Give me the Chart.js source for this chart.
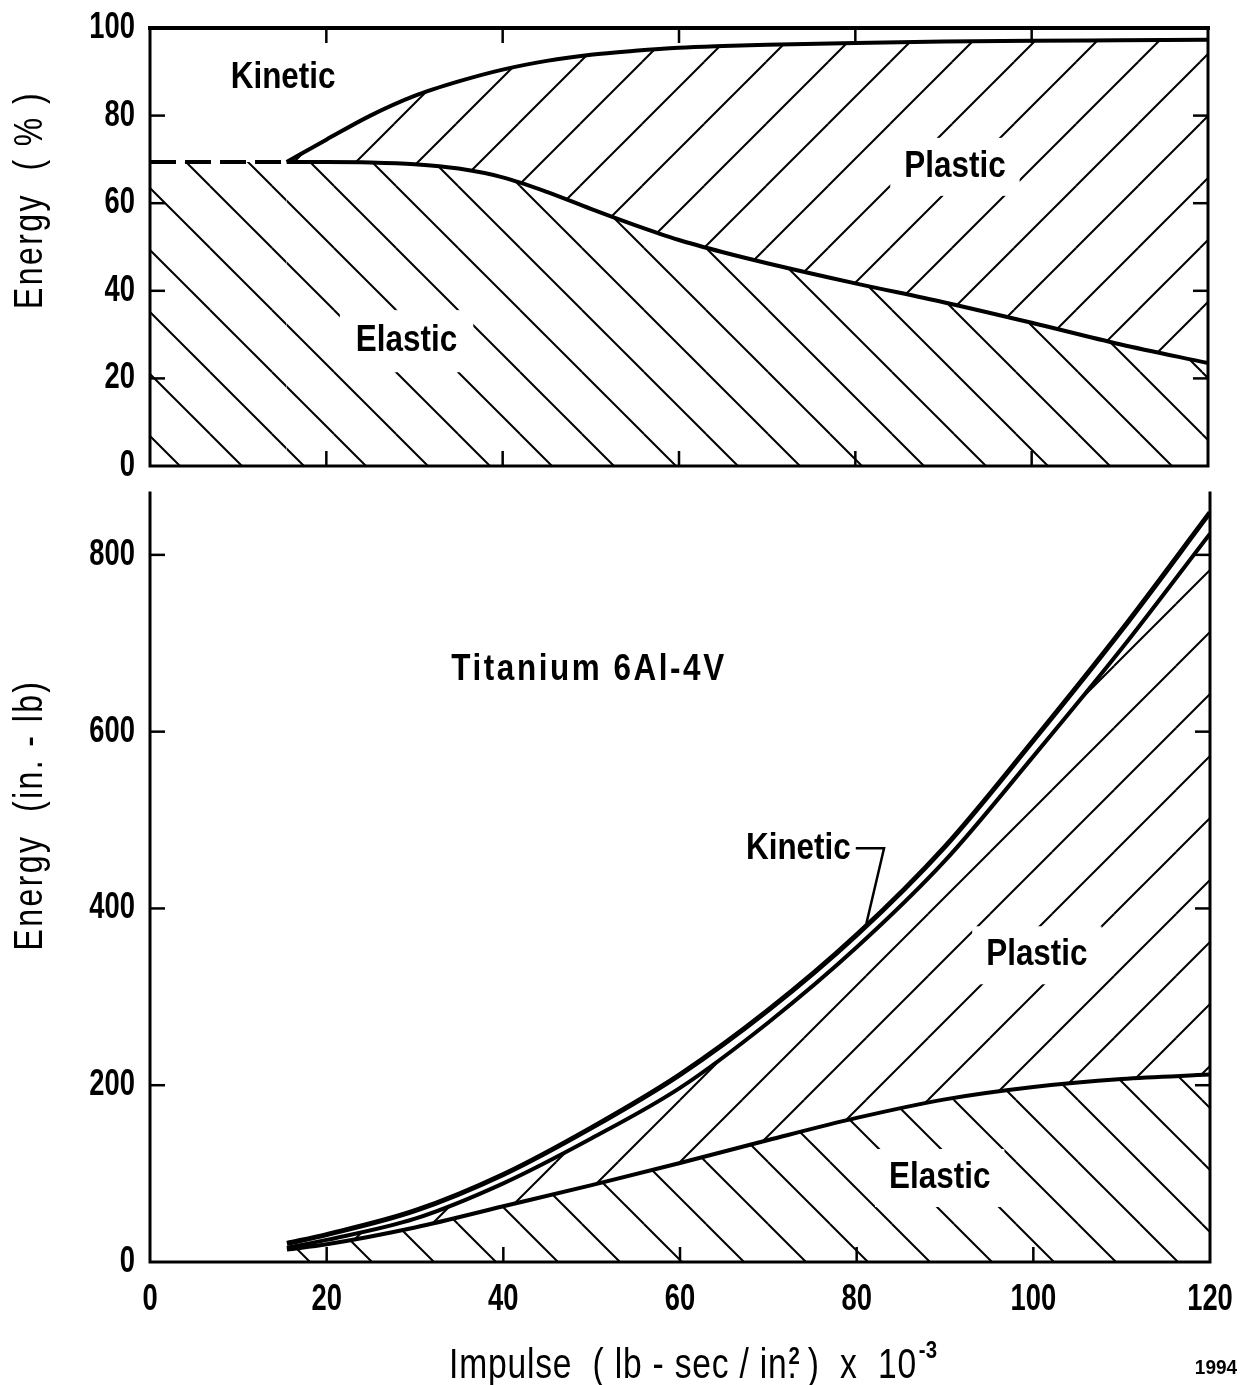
<!DOCTYPE html>
<html>
<head>
<meta charset="utf-8">
<script src="https://cdn.jsdelivr.net/npm/chart.js@4.4.1/dist/chart.umd.min.js"></script>
<style>
html, body { margin: 0; padding: 0; background: #fff; }
#wrap { position: relative; width: 1241px; height: 1385px; overflow: hidden; }
#top { position: absolute; left: 0; top: 0; }
#bot { position: absolute; left: 0; top: 480px; }
</style>
</head>
<body>
<div id="wrap">
	<canvas id="top" width="1241" height="500"></canvas>
	<canvas id="bot" width="1241" height="905"></canvas>
</div>
<script>
// upper panel: energy split in percent
var impulseTop = [0, 15.5, 20, 25, 30, 35, 40, 45, 50, 55, 60, 65, 70, 80, 90, 100, 110, 120];
var elasticPct = [69.4, 69.4, 69.4, 69.3, 68.9, 67.9, 65.9, 62.6, 58.7, 55, 51.6, 48.8, 46.3, 41.7, 37.4, 32.7, 27.8, 23.5];
var impulsePlastic = [15.5, 20, 25, 30, 35, 40, 45, 50, 55, 60, 65, 70, 80, 90, 100, 110, 120];
var plasticTopPct = [69.4, 74.5, 80, 84.5, 87.8, 90.5, 92.5, 93.9, 94.8, 95.5, 95.9, 96.2, 96.6, 96.9, 97.1, 97.2, 97.3];

// lower panel: energy in in.-lb
var impulseBottom = [15.5, 20, 30, 40, 50, 60, 70, 80, 90, 100, 110, 120];
var kineticEnergy = [21, 31, 58, 99, 152, 212, 285, 370, 470, 590, 715, 848];
var plasticEnergy = [16, 25, 49, 89, 140, 197, 271, 356, 454, 572, 694, 824];
var elasticEnergy = [14, 20, 39, 63, 87, 112, 138, 163, 184, 198, 207, 212];

var impulseTicks = [0, 20, 40, 60, 80, 100, 120];
var pctTicks = [0, 20, 40, 60, 80, 100];
var energyTicks = [0, 200, 400, 600, 800];

var SANS = "'Liberation Sans', Arial, sans-serif";

function xy(xs, ys) {
	return xs.map(function(x, i) { return {x: x, y: ys[i]}; });
}

// 45 degree hatching, 62px apart, shifted so the lines fall where the original's do
function hatch(dir, shift) {
	var s = 62;
	var c = document.createElement('canvas');
	c.width = s; c.height = s;
	var g = c.getContext('2d');
	g.strokeStyle = '#000';
	g.lineWidth = 2;
	[[0, 0], [s, 0], [-s, 0], [0, s], [0, -s]].forEach(function(d) {
		g.beginPath();
		if (dir === 'down') { g.moveTo(d[0], d[1]); g.lineTo(d[0] + s, d[1] + s); }
		else { g.moveTo(d[0], d[1] + s); g.lineTo(d[0] + s, d[1]); }
		g.stroke();
	});
	var p = g.createPattern(c, 'repeat');
	if (p.setTransform) p.setTransform(new DOMMatrix().translate(shift || 0, 0));
	return p;
}

// lettering on the original is tall and narrow, so squeeze it horizontally
function drawText(ctx, text, x, y, o) {
	ctx.save();
	ctx.translate(x, y);
	if (o.rotate) ctx.rotate(-Math.PI / 2);
	ctx.scale(o.sx || 1, 1);
	ctx.font = o.font;
	ctx.letterSpacing = (o.spacing || 0) + 'px';
	ctx.textAlign = o.align || 'center';
	ctx.textBaseline = o.baseline || 'middle';
	ctx.fillStyle = '#000';
	ctx.fillText(text, 0, 0);
	ctx.restore();
}
function textWidth(ctx, text, o) {
	ctx.save();
	ctx.font = o.font;
	ctx.letterSpacing = (o.spacing || 0) + 'px';
	var w = ctx.measureText(text).width * (o.sx || 1);
	ctx.restore();
	return w;
}

var tickOpt = {font: 'bold 36px ' + SANS, sx: 0.76};
var labelOpt = {font: 'bold 37px ' + SANS, sx: 0.85};
var titleOpt = {font: '40px ' + SANS, sx: 0.8, spacing: 3, rotate: true, baseline: 'alphabetic'};
var axisOpt = {font: '42px ' + SANS, sx: 0.8, spacing: 1, align: 'left', baseline: 'alphabetic'};
var supOpt = {font: 'bold 24px ' + SANS, sx: 0.85, align: 'left', baseline: 'alphabetic'};

var framePlugin = {
	id: 'frame',
	afterDatasetsDraw: function(chart, args, opts) {
		var ctx = chart.ctx, a = chart.chartArea, xs = chart.scales.x, ys = chart.scales.y;
		ctx.save();
		// region labels, with the hatching broken around them
		(opts.labels || []).forEach(function(l) {
			var o = Object.assign({}, labelOpt, {spacing: l.spacing || 0});
			var px = xs.getPixelForValue(l.x), py = ys.getPixelForValue(l.y);
			if (l.box) {
				var w = textWidth(ctx, l.text, o);
				ctx.fillStyle = '#fff';
				ctx.fillRect(px - w / 2 - l.box, py - 15 - l.box, w + 2 * l.box, 30 + 2 * l.box);
			}
			drawText(ctx, l.text, px, py, o);
		});
		ctx.strokeStyle = '#000';
		(opts.leaders || []).forEach(function(pts) {
			ctx.lineWidth = 2.5;
			ctx.beginPath();
			pts.forEach(function(p, i) {
				var px = xs.getPixelForValue(p[0]), py = ys.getPixelForValue(p[1]);
				if (i === 0) ctx.moveTo(px, py); else ctx.lineTo(px, py);
			});
			ctx.stroke();
		});
		// axes box
		ctx.lineCap = 'square';
		ctx.lineWidth = 3;
		ctx.beginPath();
		ctx.moveTo(a.left, a.top); ctx.lineTo(a.left, a.bottom); ctx.lineTo(a.right, a.bottom); ctx.lineTo(a.right, a.top);
		ctx.stroke();
		if (opts.topLine) {
			ctx.lineWidth = 4;
			ctx.beginPath(); ctx.moveTo(a.left, a.top); ctx.lineTo(a.right, a.top); ctx.stroke();
		}
		// inward ticks
		ctx.lineWidth = 2.5;
		ctx.lineCap = 'butt';
		var tl = 15;
		xs.ticks.forEach(function(t) {
			if (t.value <= xs.min || t.value >= xs.max) return;
			var px = xs.getPixelForValue(t.value);
			ctx.beginPath(); ctx.moveTo(px, a.bottom); ctx.lineTo(px, a.bottom - tl); ctx.stroke();
			if (opts.topLine) { ctx.beginPath(); ctx.moveTo(px, a.top); ctx.lineTo(px, a.top + tl); ctx.stroke(); }
		});
		ys.ticks.forEach(function(t) {
			if (t.value <= ys.min || t.value >= 100 && opts.topLine) return;
			var py = ys.getPixelForValue(t.value);
			ctx.beginPath(); ctx.moveTo(a.left, py); ctx.lineTo(a.left + tl, py); ctx.stroke();
			ctx.beginPath(); ctx.moveTo(a.right, py); ctx.lineTo(a.right - tl, py); ctx.stroke();
		});
		// tick labels from the scales
		ys.ticks.forEach(function(t) {
			drawText(ctx, String(t.value), a.left - 15, ys.getPixelForValue(t.value), Object.assign({align: 'right'}, tickOpt));
		});
		if (opts.xLabels) {
			xs.ticks.forEach(function(t) {
				drawText(ctx, String(t.value), xs.getPixelForValue(t.value), a.bottom + 48, Object.assign({baseline: 'alphabetic'}, tickOpt));
			});
		}
		ctx.restore();
	},
	afterDraw: function(chart, args, opts) {
		var ctx = chart.ctx;
		(opts.titles || []).forEach(function(t) {
			drawText(ctx, t.text, t.x, t.y, t.opt);
		});
		if (opts.xTitle) {
			var p = opts.xTitle, parts = p.parts, total = 0;
			parts.forEach(function(q) { q.w = q.adv !== undefined ? q.adv : textWidth(ctx, q.text, q.opt); total += q.w; });
			var x = p.x - total / 2;
			parts.forEach(function(q) {
				drawText(ctx, q.text, x + (q.dx || 0), p.y + (q.dy || 0), q.opt);
				x += q.w;
			});
		}
	}
};

function fixedTicks(list) {
	return function(scale) { scale.ticks = list.map(function(v) { return {value: v}; }); };
}

new Chart(document.getElementById('top'), {
	type: 'line',
	data: {
		datasets: [{
			data: xy(impulseTop, elasticPct),
			borderColor: '#000',
			borderWidth: 4,
			backgroundColor: hatch('down', 24),
			fill: 'origin',
			pointRadius: 0,
			cubicInterpolationMode: 'monotone',
			segment: {
				borderDash: function(c) { return c.p1.parsed.x <= 15.6 ? [26, 9] : undefined; }
			}
		}, {
			data: xy(impulsePlastic, plasticTopPct),
			borderColor: '#000',
			borderWidth: 4,
			backgroundColor: hatch('up', 22),
			fill: '-1',
			pointRadius: 0,
			cubicInterpolationMode: 'monotone'
		}]
	},
	options: {
		responsive: false,
		animation: false,
		devicePixelRatio: 1,
		layout: {padding: {top: 28, right: 33, left: 0, bottom: 0}},
		plugins: {
			legend: {display: false},
			tooltip: {enabled: false},
			frame: {
				topLine: true,
				labels: [
					{text: 'Kinetic', x: 15.1, y: 88.6},
					{text: 'Plastic', x: 91.3, y: 68.3, box: 14},
					{text: 'Elastic', x: 29.1, y: 28.5, box: 16}
				],
				titles: [
					{text: 'Energy  ( % )', x: 42, y: 200, opt: titleOpt}
				]
			}
		},
		scales: {
			x: {
				type: 'linear', min: 0, max: 120,
				afterBuildTicks: fixedTicks(impulseTicks),
				afterFit: function(s) { s.height = 34; },
				ticks: {display: false},
				grid: {display: false},
				border: {display: false}
			},
			y: {
				min: 0, max: 100,
				afterBuildTicks: fixedTicks(pctTicks),
				afterFit: function(s) { s.width = 150; },
				ticks: {display: false},
				grid: {display: false},
				border: {display: false}
			}
		}
	},
	plugins: [framePlugin]
});

new Chart(document.getElementById('bot'), {
	type: 'line',
	data: {
		datasets: [{
			data: xy(impulseBottom, elasticEnergy),
			borderColor: '#000',
			borderWidth: 4,
			backgroundColor: hatch('down', 24),
			fill: 'origin',
			pointRadius: 0,
			cubicInterpolationMode: 'monotone'
		}, {
			data: xy(impulseBottom, plasticEnergy),
			borderColor: '#000',
			borderWidth: 4,
			backgroundColor: hatch('up', 60),
			fill: '-1',
			pointRadius: 0,
			cubicInterpolationMode: 'monotone'
		}, {
			data: xy(impulseBottom, kineticEnergy),
			borderColor: '#000',
			borderWidth: 5,
			fill: false,
			pointRadius: 0,
			cubicInterpolationMode: 'monotone'
		}]
	},
	options: {
		responsive: false,
		animation: false,
		devicePixelRatio: 1,
		layout: {padding: {top: 13, right: 31, left: 0, bottom: 0}},
		plugins: {
			legend: {display: false},
			tooltip: {enabled: false},
			frame: {
				topLine: false,
				xLabels: true,
				labels: [
					{text: 'Titanium 6Al-4V', x: 49.7, y: 670, spacing: 3},
					{text: 'Kinetic', x: 73.4, y: 468},
					{text: 'Plastic', x: 100.4, y: 347, box: 14},
					{text: 'Elastic', x: 89.4, y: 95, box: 14}
				],
				leaders: [[[79.9, 468], [83.1, 468], [81.1, 383]]],
				titles: [
					{text: 'Energy  (in. - lb)', x: 42, y: 335, opt: titleOpt},
					{text: '1994', x: 1216, y: 894, opt: {font: 'bold 20px ' + SANS, sx: 0.95, baseline: 'alphabetic'}}
				],
				xTitle: {x: 692, y: 898, parts: [
					{text: 'Impulse  ( lb - sec / in', opt: axisOpt},
					{text: '2', opt: supOpt, dy: -14, dx: 1, adv: 0},
					{text: '.', opt: axisOpt},
					{text: ' )  x  10', opt: axisOpt},
					{text: '-3', opt: supOpt, dy: -20, dx: 2}
				]}
			}
		},
		scales: {
			x: {
				type: 'linear', min: 0, max: 120,
				afterBuildTicks: fixedTicks(impulseTicks),
				afterFit: function(s) { s.height = 123; },
				ticks: {display: false},
				grid: {display: false},
				border: {display: false}
			},
			y: {
				min: 0, max: 870,
				afterBuildTicks: fixedTicks(energyTicks),
				afterFit: function(s) { s.width = 150; },
				ticks: {display: false},
				grid: {display: false},
				border: {display: false}
			}
		}
	},
	plugins: [framePlugin]
});
</script>
</body>
</html>
